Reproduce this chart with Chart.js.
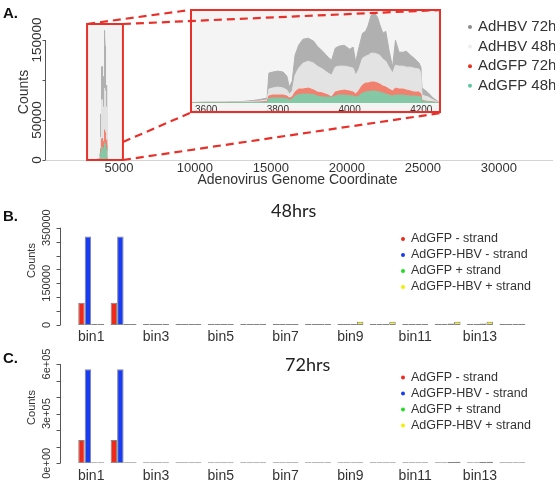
<!DOCTYPE html>
<html>
<head>
<meta charset="utf-8">
<script src="https://cdn.jsdelivr.net/npm/chart.js@4.4.0/dist/chart.umd.min.js"></script>
<style>
  body { margin: 0; background: #fff; width: 555px; height: 486px; position: relative; overflow: hidden; }
  canvas { position: absolute; }
  #inset { left: 190px; top: 10px; z-index: 1; }
  #panelA { left: 0; top: 0; z-index: 2; }
  #panelB { left: 0; top: 200px; }
  #panelC { left: 0; top: 345px; }
</style>
</head>
<body>
<canvas id="inset" width="251" height="104"></canvas>
<canvas id="panelA" width="555" height="195"></canvas>
<canvas id="panelB" width="555" height="145"></canvas>
<canvas id="panelC" width="555" height="141"></canvas>
<script>
// ---- panel A: coverage along the genome ----
var genomePos = [3560,3600,3650,3700,3730,3750,3770,3775,3785,3800,3815,3825,3832,3840,3848,3858,3870,3885,3900,3910,
  3925,3940,3950,3960,3970,3985,4000,4010,4017,4025,4036,4045,4052,4060,4070,4078,4084,4093,4101,4110,
  4120,4128,4138,4150,4158,4170,4180,4194,4199,4202,4210,4220,4233,4247,4255];
var hbv72 = [900,1800,1800,2700,4500,6300,9000,54000,55800,57600,55800,48600,28800,39600,86400,104400,115200,117000,111600,102600,
  93600,82800,77400,99000,102600,104400,97200,100800,73800,97200,126000,129600,140400,158400,162000,154800,142200,126000,129600,95400,
  64800,113400,91800,91800,93600,86400,81000,72000,64800,27000,23400,18000,9000,2700,900];
var hbv48 = [720,1440,1440,1800,2700,3600,5400,25200,27000,28800,27000,23400,16200,21600,50400,63000,72000,75600,72000,66600,
  61200,54000,50400,64800,66600,66600,64800,63000,50400,59400,81000,84600,86400,90000,90000,88200,86400,79200,75600,64800,
  54000,68400,66600,66600,64800,64800,63000,61200,54000,14400,12600,10800,5400,1800,540];
var gfp72 = [360,720,720,900,1260,1800,2700,12600,14400,14400,14400,12600,9000,10800,19800,25200,25200,27000,23400,19800,
  18000,14400,10800,19800,21600,23400,21600,19800,16200,21600,32400,36000,36000,37800,37800,36000,34200,30600,28800,25200,
  21600,27000,25200,25200,23400,21600,19800,19800,16200,4500,3600,2700,1800,900,360];
var gfp48 = [180,360,360,540,720,900,1440,8100,9000,9000,9000,8100,5400,7200,12600,15300,16200,16200,15300,12600,
  10800,10800,9900,12600,14400,14400,13500,12600,10800,12600,18000,19800,20700,21600,21600,20700,19800,18000,16200,14400,
  12600,14400,14400,14400,13500,12600,12600,11700,10800,3600,2700,2200,1440,720,180];
var areaNames = ['AdHBV 72h', 'AdHBV 48h', 'AdGFP 72h', 'AdGFP 48h'];
var genomeTicks = [5000, 10000, 15000, 20000, 25000, 30000];
var insetTicks = [3600, 3800, 4000, 4200];
var countTicksA = [0, 50000, 100000, 150000];
var countLabelsA = [0, 50000, 150000];
var zoomRange = [2900, 5260];

// ---- panels B and C: strand counts per bin ----
var bins = ['bin1','bin2','bin3','bin4','bin5','bin6','bin7','bin8','bin9','bin10','bin11','bin12','bin13','bin14'];
var strandNames = ['AdGFP - strand', 'AdGFP-HBV - strand', 'AdGFP + strand', 'AdGFP-HBV + strand'];
var gfpMinus48 = [80000,80000,600,600,600,600,600,600,600,600,800,600,600,600];
var hbvMinus48 = [318000,318000,800,800,800,800,800,800,800,800,900,800,800,800];
var gfpPlus48  = [500,500,500,500,500,500,500,500,800,800,1500,5000,5000,500];
var hbvPlus48  = [500,500,500,500,500,500,500,500,12000,12000,1500,12000,12000,500];
var gfpMinus72 = [141000,141000,1000,1000,1000,1000,1000,1000,1000,1000,1000,1000,1000,1000];
var hbvMinus72 = [568000,568000,3000,3000,3000,3000,1500,1500,1500,1500,1500,1500,1500,1500];
var gfpPlus72  = [800,800,800,800,800,800,800,800,800,800,800,8000,8000,800];
var hbvPlus72  = [800,800,800,800,800,800,800,800,2000,2000,800,9000,9000,800];
var countTicksB = [0,50000,100000,150000,200000,250000,300000,350000];
var countLabelsB = [0,150000,350000];
var countTicksC = [0,100000,200000,300000,400000,500000,600000];
var countLabelsC = [0,300000,600000];

var FONT = "'Liberation Sans', Arial, sans-serif";
Chart.defaults.font.family = FONT;
Chart.defaults.color = '#333';

var areaFill = ['#b0b0b0', '#e3e3e3', 'rgb(242,128,110)', 'rgb(132,200,166)'];
var areaDot = ['#8c8c8c', '#eeeeee', '#e8321e', '#5cc8a0'];
var barColors = ['#f02a1a', '#1a3cf0', '#22dd22', '#f2f230'];

function areaSets() {
  var series = [hbv72, hbv48, gfp72, gfp48];
  return series.map(function(s, i) {
    return {
      label: areaNames[i],
      data: genomePos.map(function(x, j) { return {x: x, y: s[j]}; }),
      fill: 'origin',
      backgroundColor: areaFill[i],
      borderColor: areaFill[i],
      borderWidth: 1,
      pointRadius: 0,
      tension: 0,
      order: 4 - i
    };
  });
}

function rAxis(chart, o) {
  var ctx = chart.ctx, y = chart.scales.y;
  ctx.save();
  ctx.strokeStyle = '#555';
  ctx.lineWidth = 1;
  ctx.beginPath();
  ctx.moveTo(o.x + 0.5, y.getPixelForValue(o.ticks[0]));
  ctx.lineTo(o.x + 0.5, y.getPixelForValue(o.ticks[o.ticks.length - 1]));
  o.ticks.forEach(function(v) {
    var py = Math.round(y.getPixelForValue(v)) + 0.5;
    ctx.moveTo(o.x + 0.5, py);
    ctx.lineTo(o.x + 0.5 - o.tickLen, py);
  });
  ctx.stroke();
  ctx.fillStyle = '#333';
  ctx.textAlign = 'center';
  ctx.textBaseline = 'middle';
  ctx.font = o.size + 'px ' + FONT;
  o.labels.forEach(function(v) {
    ctx.save();
    ctx.translate(o.labelX, y.getPixelForValue(v));
    ctx.rotate(-Math.PI / 2);
    ctx.fillText(o.fmt(v), 0, 0);
    ctx.restore();
  });
  ctx.font = o.titleSize + 'px ' + FONT;
  ctx.translate(o.titleX, o.titleY);
  ctx.rotate(-Math.PI / 2);
  ctx.fillText('Counts', 0, 0);
  ctx.restore();
}

function dotLegend(ctx, names, colors, x, y0, step, size) {
  ctx.save();
  ctx.font = size + 'px ' + FONT;
  ctx.textAlign = 'left';
  ctx.textBaseline = 'middle';
  names.forEach(function(n, i) {
    var y = y0 + i * step;
    ctx.fillStyle = colors[i];
    ctx.beginPath();
    ctx.arc(x, y, 2, 0, Math.PI * 2);
    ctx.fill();
    ctx.fillStyle = '#333';
    ctx.fillText(n, x + 8, y);
  });
  ctx.restore();
}

function panelText(ctx, label, ly, title, tx, ty) {
  ctx.save();
  ctx.fillStyle = '#111';
  ctx.textBaseline = 'middle';
  ctx.font = 'bold 15px ' + FONT;
  ctx.fillText(label, 3, ly);
  if (title) {
    ctx.font = '18px Lato, ' + FONT;
    ctx.fillStyle = '#222';
    ctx.fillText(title, tx, ty);
  }
  ctx.restore();
}

// inset (zoomed view)
var insetChart = new Chart(document.getElementById('inset'), {
  type: 'line',
  data: { datasets: areaSets() },
  options: {
    responsive: false,
    animation: false,
    events: [],
    layout: { padding: 0 },
    scales: {
      x: {
        type: 'linear', min: 3555, max: 4255,
        grid: { display: false, drawTicks: false },
        border: { display: false },
        afterBuildTicks: function(s) { s.ticks = insetTicks.map(function(v) { return {value: v}; }); },
        ticks: { autoSkip: false, maxRotation: 0, padding: 1, font: { size: 10 }, color: '#333',
          callback: function(v) { return String(v); } },
        afterFit: function(s) { s.height = 11; }
      },
      y: { display: false, min: 0, max: 168000 }
    },
    plugins: { legend: { display: false }, tooltip: { enabled: false } }
  },
  plugins: [{
    id: 'insetBg',
    beforeDraw: function(c) {
      c.ctx.save();
      c.ctx.fillStyle = '#f4f4f4';
      c.ctx.fillRect(0, 0, c.width, c.height);
      c.ctx.restore();
    }
  }]
});

var zoomBox = {
  id: 'zoomBox',
  beforeDatasetsDraw: function(c) {
    var a = c.chartArea, x = c.scales.x, ctx = c.ctx;
    var l = x.getPixelForValue(zoomRange[0]), r = x.getPixelForValue(zoomRange[1]);
    ctx.save();
    ctx.fillStyle = '#f3f3f3';
    ctx.fillRect(l, a.top, r - l, a.bottom - a.top);
    ctx.restore();
  },
  afterDraw: function(c) {
    var a = c.chartArea, x = c.scales.x, y = c.scales.y, ctx = c.ctx;
    var l = x.getPixelForValue(zoomRange[0]), r = x.getPixelForValue(zoomRange[1]);
    var ic = insetChart.canvas;
    var il = ic.offsetLeft, it = ic.offsetTop, ir = il + ic.width, ib = it + ic.height - 1;
    ctx.save();
    ctx.strokeStyle = '#e8302a';
    ctx.lineWidth = 2;
    ctx.strokeRect(l, a.top, r - l, a.bottom - a.top);
    ctx.strokeRect(il + 1, it, ic.width - 2, ic.height - 2);
    ctx.setLineDash([8, 5]);
    ctx.lineWidth = 2.2;
    ctx.beginPath();
    ctx.moveTo(l, a.top); ctx.lineTo(il, it);
    ctx.moveTo(r, a.top); ctx.lineTo(ir, it);
    ctx.moveTo(r, y.getPixelForValue(22500)); ctx.lineTo(il, ib);
    ctx.moveTo(r, a.bottom); ctx.lineTo(ir, ib);
    ctx.stroke();
    ctx.restore();
    rAxis(c, { x: a.left + 2, ticks: countTicksA, labels: countLabelsA, tickLen: 3, labelX: 37, size: 13.5,
      fmt: function(v) { return String(v); }, titleX: 24, titleY: (a.top + a.bottom) / 2, titleSize: 14 });
    dotLegend(ctx, areaNames, areaDot, 470, 27, 19.6, 15);
    panelText(ctx, 'A.', 14);
  }
};

var mainChart = new Chart(document.getElementById('panelA'), {
  type: 'line',
  data: { datasets: areaSets() },
  options: {
    responsive: false,
    animation: false,
    events: [],
    layout: { padding: { left: 43, top: 24, right: 3, bottom: 0 } },
    scales: {
      x: {
        type: 'linear', min: 0, max: 33500,
        grid: { display: false, drawTicks: false },
        border: { color: '#d4d4d4' },
        afterBuildTicks: function(s) { s.ticks = genomeTicks.map(function(v) { return {value: v}; }); },
        ticks: { autoSkip: false, maxRotation: 0, padding: 1, font: { size: 13 }, color: '#333',
          callback: function(v) { return String(v); } },
        title: { display: true, text: 'Adenovirus Genome Coordinate', font: { size: 14 }, color: '#333',
          padding: { top: 0, bottom: 6 } },
        afterFit: function(s) { s.height = 35; }
      },
      y: { display: false, min: 0, max: 170000 }
    },
    plugins: { legend: { display: false }, tooltip: { enabled: false } }
  },
  plugins: [zoomBox]
});

function barChart(id, series, cfg) {
  return new Chart(document.getElementById(id), {
    type: 'bar',
    data: {
      labels: bins,
      datasets: series.map(function(s, i) {
        return {
          label: strandNames[i], data: s,
          backgroundColor: barColors[i],
          borderColor: 'rgba(50,50,50,0.6)',
          borderWidth: 1, borderSkipped: false, minBarLength: 1,
          categoryPercentage: 0.8, barPercentage: 1
        };
      })
    },
    options: {
      responsive: false,
      animation: false,
      events: [],
      layout: { padding: cfg.padding },
      scales: {
        x: {
          grid: { display: false, drawTicks: false },
          border: { display: false },
          ticks: { autoSkip: false, maxRotation: 0, padding: cfg.tickPad, font: { size: 14 }, color: '#333',
            callback: function(v, i) { return i % 2 === 0 ? this.getLabelForValue(v) : ''; } },
          afterFit: function(s) { s.height = cfg.xHeight; }
        },
        y: { display: false, min: 0, max: cfg.yMax }
      },
      plugins: { legend: { display: false }, tooltip: { enabled: false } }
    },
    plugins: [{
      id: 'rStyle',
      afterDraw: function(c) {
        rAxis(c, { x: 60, ticks: cfg.ticks, labels: cfg.labels, tickLen: 4, labelX: 47, size: 11,
          fmt: cfg.fmt, titleX: 32, titleY: cfg.titleY, titleSize: 11 });
        dotLegend(c.ctx, strandNames, barColors.map(function(col, i) { return i === 3 ? '#f0f000' : col; }),
          403, cfg.legendY, 16, 12.5);
        panelText(c.ctx, cfg.panel, cfg.panelY, cfg.title, cfg.titleTx, cfg.titleTy);
      }
    }]
  });
}

barChart('panelB', [gfpMinus48, hbvMinus48, gfpPlus48, hbvPlus48], {
  padding: { left: 75, right: 26.4, top: 27.7, bottom: 0 }, xHeight: 20, tickPad: 4,
  yMax: 350000, ticks: countTicksB, labels: countLabelsB,
  fmt: function(v) { return String(v); }, titleY: 60.5,
  legendY: 39, panel: 'B.', panelY: 17, title: '48hrs', titleTx: 271, titleTy: 11
});

barChart('panelC', [gfpMinus72, hbvMinus72, gfpPlus72, hbvPlus72], {
  padding: { left: 75, right: 26.4, top: 19, bottom: 0 }, xHeight: 22.7, tickPad: 4,
  yMax: 600000, ticks: countTicksC, labels: countLabelsC,
  fmt: function(v) { return v === 0 ? '0e+00' : (v / 100000) + 'e+05'; }, titleY: 62.5,
  legendY: 32.5, panel: 'C.', panelY: 14, title: '72hrs', titleTx: 285, titleTy: 20
});
</script>
</body>
</html>
